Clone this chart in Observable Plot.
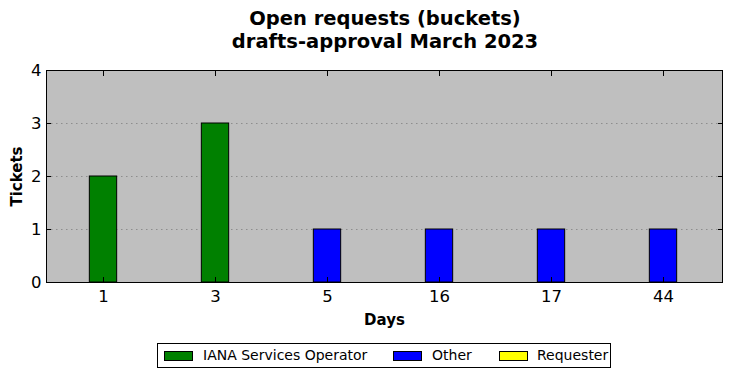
<!DOCTYPE html>
<html>
<head>
<meta charset="utf-8">
<script src="https://cdn.jsdelivr.net/npm/d3@7"></script>
<script src="https://cdn.jsdelivr.net/npm/@observablehq/plot@0.6"></script>
<style>
  body { margin: 0; background: #fff; font-family: "DejaVu Sans", sans-serif; }
  #wrap { position: relative; width: 732px; height: 378px; overflow: hidden; }
  #title { position: absolute; left: 0; top: 7px; width: 770px; text-align: center; font-weight: bold; font-size: 19.5px; line-height: 23px; color: #000; }
  #legend { position: absolute; left: 157px; top: 343px; width: 452px; height: 23px; border: 1px solid #000; font-size: 14px; box-sizing: content-box; }
  .sw { position: absolute; top: 7px; width: 27px; height: 8px; border: 1px solid #000; }
  .lab { position: absolute; top: 2px; line-height: 18px; white-space: nowrap; }
  #chart { position: absolute; left: 0; top: 0; }
</style>
</head>
<body>
<div id="wrap">
  <div id="chart"></div>
  <div id="title">Open requests (buckets)<br>drafts-approval March 2023</div>
  <div id="legend"></div>
</div>
<script>
const days = ["1", "3", "5", "16", "17", "44"];
const seriesNames = ["IANA Services Operator", "Other", "Requester"];
const seriesColors = ["#008000", "#0000ff", "#ffff00"];
const ianaValues = [2, 3, 0, 0, 0, 0];
const otherValues = [0, 0, 1, 1, 1, 1];
const requesterValues = [0, 0, 0, 0, 0, 0];
const yTicks = [0, 1, 2, 3, 4];
const gridTicks = [1, 2, 3];

const allValues = [ianaValues, otherValues, requesterValues];
const rows = [];
seriesNames.forEach((s, i) => {
  days.forEach((d, j) => {
    if (allValues[i][j] > 0) rows.push({day: d, series: s, value: allValues[i][j]});
  });
});

const W = 732, H = 378;
const mL = 46, mR = 10, mT = 70, mB = 96;
const band = (W - mL - mR) / days.length;
const barW = 28;
const inset = (band - barW) / 2;

const chart = Plot.plot({
  width: W,
  height: H,
  marginLeft: mL,
  marginRight: mR,
  marginTop: mT,
  marginBottom: mB,
  style: {fontFamily: "DejaVu Sans, sans-serif", fontSize: "16px", color: "#000", background: "transparent", overflow: "visible"},
  x: {type: "band", domain: days, padding: 0, label: null, range: [mL - 1, W - mR - 1]},
  y: {domain: [0, 4], label: null},
  color: {domain: seriesNames, range: seriesColors},
  marks: [
    Plot.frame({fill: "#bfbfbf", stroke: null}),
    Plot.ruleY(gridTicks, {stroke: "#808080", strokeWidth: 0.8, strokeDasharray: "1.5,3.5"}),
    Plot.barY(rows, Plot.stackY({x: "day", y: "value", fill: "series", stroke: "#000", strokeWidth: 1, insetLeft: inset, insetRight: inset, order: seriesNames})),
    Plot.axisX({anchor: "bottom", tickSize: -5, tickPadding: 13, fontSize: 16.5, label: null}),
    Plot.axisX({anchor: "top", tickSize: -5, tickFormat: () => "", label: null}),
    Plot.axisY({anchor: "left", ticks: yTicks, tickSize: -5, tickPadding: 10, fontSize: 16.5, tickFormat: d3.format("d"), label: null}),
    Plot.axisY({anchor: "right", ticks: yTicks, tickSize: -5, tickFormat: () => "", label: null}),
    Plot.frame({stroke: "#000", strokeWidth: 1}),
    Plot.text(["Days"], {frameAnchor: "bottom", dy: 38, fontWeight: "bold", fontSize: 15, lineAnchor: "middle", textAnchor: "middle"}),
    Plot.text(["Tickets"], {frameAnchor: "left", dx: -29, rotate: -90, fontWeight: "bold", fontSize: 15, lineAnchor: "middle", textAnchor: "middle"})
  ]
});
document.getElementById("chart").appendChild(chart);

const legend = document.getElementById("legend");
const swLeft = [6, 235, 341];
const labLeft = [45, 274, 379];
seriesNames.forEach((s, i) => {
  const sw = document.createElement("div");
  sw.className = "sw";
  sw.style.left = swLeft[i] + "px";
  sw.style.background = seriesColors[i];
  const lab = document.createElement("span");
  lab.className = "lab";
  lab.style.left = labLeft[i] + "px";
  lab.textContent = s;
  legend.appendChild(sw);
  legend.appendChild(lab);
});
</script>
</body>
</html>
